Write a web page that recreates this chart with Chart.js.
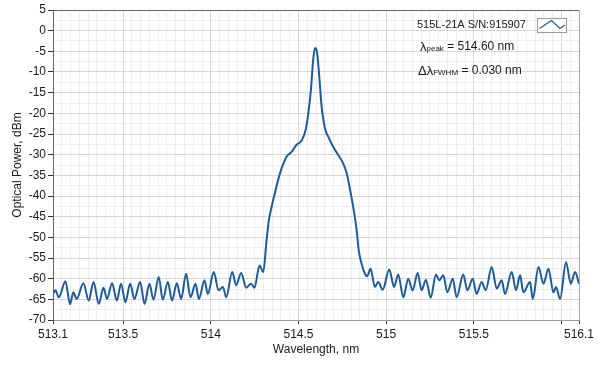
<!DOCTYPE html>
<html>
<head>
<meta charset="utf-8">
<script src="https://cdn.jsdelivr.net/npm/chart.js@4/dist/chart.umd.min.js"></script>
<style>
  html, body { margin: 0; padding: 0; background: #fff; }
</style>
</head>
<body>
<canvas id="chart1" width="599" height="370"></canvas>
<script>
// spectrum (nm, dBm)
const wavelength = [
  513.100, 513.114, 513.133, 513.171, 513.197, 513.216, 513.235, 513.273, 513.304, 513.331,
  513.361, 513.388, 513.408, 513.437, 513.464, 513.488, 513.513, 513.540, 513.564, 513.597,
  513.622, 513.650, 513.673, 513.703, 513.726, 513.755, 513.779, 513.806, 513.831, 513.859,
  513.884, 513.913, 513.932, 513.964, 513.983, 514.017, 514.044, 514.069, 514.088, 514.122,
  514.145, 514.173, 514.202, 514.230, 514.249, 514.278, 514.299,
  514.318, 514.331, 514.347, 514.365, 514.384, 514.404, 514.432, 514.461, 514.489, 514.518,
  514.541, 514.556, 514.571, 514.584, 514.594, 514.605, 514.617, 514.632, 514.651, 514.674,
  514.698, 514.727, 514.755, 514.775, 514.793, 514.812, 514.832, 514.843, 514.860,
  514.879, 514.892, 514.911, 514.936, 514.955, 514.980, 515.018, 515.045, 515.069, 515.098,
  515.126, 515.151, 515.180, 515.202, 515.227, 515.254, 515.284, 515.303, 515.326, 515.349,
  515.380, 515.402, 515.440, 515.463, 515.494, 515.516, 515.545, 515.568, 515.602, 515.631,
  515.659, 515.678, 515.716, 515.741, 515.764, 515.783, 515.821, 515.836, 515.869, 515.897,
  515.926, 515.954, 515.969, 515.992, 516.026, 516.053, 516.078, 516.100
];
const power = [
  -63.7, -62.8, -64.5, -60.6, -66.2, -63.3, -64.9, -61.1, -65.3, -60.8,
  -66.1, -62.2, -64.9, -61.1, -65.3, -61.2, -65.7, -61.2, -64.9, -60.8,
  -66.1, -61.2, -65.1, -59.6, -65.1, -60.8, -65.3, -61.1, -64.9, -58.8,
  -64.5, -61.2, -64.9, -60.4, -63.7, -58.4, -62.8, -62.0, -64.5, -58.4,
  -61.6, -58.6, -62.2, -61.2, -62.2, -56.8, -58.4,
  -50.7, -45.9, -42.6, -39.4, -36.1, -33.3, -30.5, -29.3, -27.6, -26.6,
  -24.0, -20.0, -14.3, -7.0, -4.2, -5.0, -10.2, -18.3, -23.6, -26.0,
  -28.1, -30.1, -32.1, -34.5, -38.2, -42.6, -48.3, -53.0, -56.4,
  -58.8, -59.4, -57.6, -62.0, -60.8, -62.7, -57.8, -62.0, -59.0, -64.5,
  -60.0, -62.8, -58.6, -62.8, -60.3, -64.6, -59.0, -60.4, -59.2, -63.3,
  -60.0, -64.5, -59.0, -62.8, -60.0, -63.7, -60.8, -62.8, -57.2, -62.4,
  -60.4, -63.7, -58.4, -62.8, -59.2, -63.3, -60.8, -64.9, -57.2, -61.2,
  -57.6, -63.3, -62.0, -64.9, -56.0, -61.2, -58.4, -61.2
];
const xLabelTicks = [513.1, 513.5, 514, 514.5, 515, 515.5, 516.1];
const xMarkTicks = [513.1, 513.5, 514, 514.5, 515, 515.5, 516, 516.1];
const yLabelStep = 5;
const legendName = '515L-21A S/N:915907';
const peakText = ' = 514.60 nm';
const fwhmText = ' = 0.030 nm';

const lineColor = '#1d5c9c';
const near = (a, b) => Math.abs(a - b) < 1e-6;
const inList = (list, v) => list.some(t => near(t, v));

const points = wavelength.map((w, i) => ({ x: w, y: power[i] }));

// legend box + lambda notes in the top right corner
const notes = {
  id: 'notes',
  afterDraw(chart) {
    const ctx = chart.ctx;
    ctx.save();
    ctx.textBaseline = 'middle';
    ctx.fillStyle = '#1a1a1a';
    ctx.font = '11px "Liberation Sans"';
    ctx.fillText(legendName, 417, 25);

    ctx.fillStyle = '#fff';
    ctx.fillRect(537.5, 18.5, 29, 14);
    ctx.strokeStyle = '#9a9a9a';
    ctx.lineWidth = 1;
    ctx.strokeRect(537.5, 18.5, 29, 14);
    ctx.strokeStyle = lineColor;
    ctx.lineWidth = 1.2;
    ctx.beginPath();
    ctx.moveTo(539.5, 28.5);
    ctx.lineTo(551.5, 20.5);
    ctx.lineTo(560, 28.5);
    ctx.lineTo(565, 25);
    ctx.stroke();

    ctx.fillStyle = '#1a1a1a';
    const row = (x, y, parts) => {
      parts.forEach(p => {
        ctx.font = p.size + 'px "Liberation Sans"';
        ctx.fillText(p.t, x, y + (p.dy || 0));
        x += ctx.measureText(p.t).width;
      });
    };
    row(420, 47, [{ t: 'λ', size: 13 }, { t: 'peak', size: 8, dy: 2 }, { t: peakText, size: 12 }]);
    row(418, 71, [{ t: 'Δλ', size: 13 }, { t: 'FWHM', size: 8, dy: 2 }, { t: fwhmText, size: 12 }]);
    ctx.restore();
  }
};

const font = { family: '"Liberation Sans"', size: 12 };

new Chart(document.getElementById('chart1').getContext('2d'), {
  type: 'line',
  data: {
    datasets: [{
      label: legendName,
      data: points,
      borderColor: lineColor,
      borderWidth: 2,
      pointRadius: 0,
      cubicInterpolationMode: 'monotone',
      fill: false
    }]
  },
  options: {
    responsive: false,
    animation: false,
    devicePixelRatio: 1,
    layout: { padding: { top: 10, right: 20, bottom: 0, left: 0 } },
    plugins: { legend: { display: false }, tooltip: { enabled: false } },
    scales: {
      x: {
        type: 'linear',
        min: 513.1,
        max: 516.1,
        afterBuildTicks(scale) {
          const t = [];
          for (let i = 0; i <= 60; i++) t.push({ value: Math.round((513.1 + i * 0.05) * 100) / 100 });
          scale.ticks = t;
        },
        afterFit(scale) { scale.height = 50; },
        ticks: {
          autoSkip: false,
          maxRotation: 0,
          minRotation: 0,
          padding: 3,
          color: '#1a1a1a',
          font: font,
          callback: v => inList(xLabelTicks, v) ? String(v) : ''
        },
        grid: {
          tickLength: 4,
          color: c => {
            const v = c.tick.value;
            if (near(v, 516.1)) return '#a8a8a8';
            if (near(v * 2, Math.round(v * 2))) return '#d8d8d8';
            return '#eeeeee';
          },
          tickColor: c => inList(xMarkTicks, c.tick.value) ? '#333' : 'rgba(0,0,0,0)'
        },
        border: { color: '#9a9a9a' },
        title: {
          display: true,
          text: 'Wavelength, nm',
          color: '#1a1a1a',
          font: font,
          padding: { top: 0, bottom: 13 }
        }
      },
      y: {
        min: -70,
        max: 5,
        afterFit(scale) { scale.width = 53; },
        ticks: {
          stepSize: 2.5,
          autoSkip: false,
          padding: 2,
          color: '#1a1a1a',
          font: font,
          callback: v => v % yLabelStep === 0 ? String(v) : ''
        },
        grid: {
          tickLength: 5,
          color: c => {
            const v = c.tick.value;
            if (v === 5) return '#6a6a6a';
            if (v % yLabelStep === 0) return '#d8d8d8';
            return '#eeeeee';
          },
          tickColor: c => c.tick.value % yLabelStep === 0 ? '#333' : 'rgba(0,0,0,0)'
        },
        border: { color: '#666' },
        title: {
          display: true,
          text: 'Optical Power, dBm',
          color: '#1a1a1a',
          font: font,
          padding: { top: 10, bottom: 0 }
        }
      }
    }
  },
  plugins: [notes]
});
</script>
</body>
</html>
